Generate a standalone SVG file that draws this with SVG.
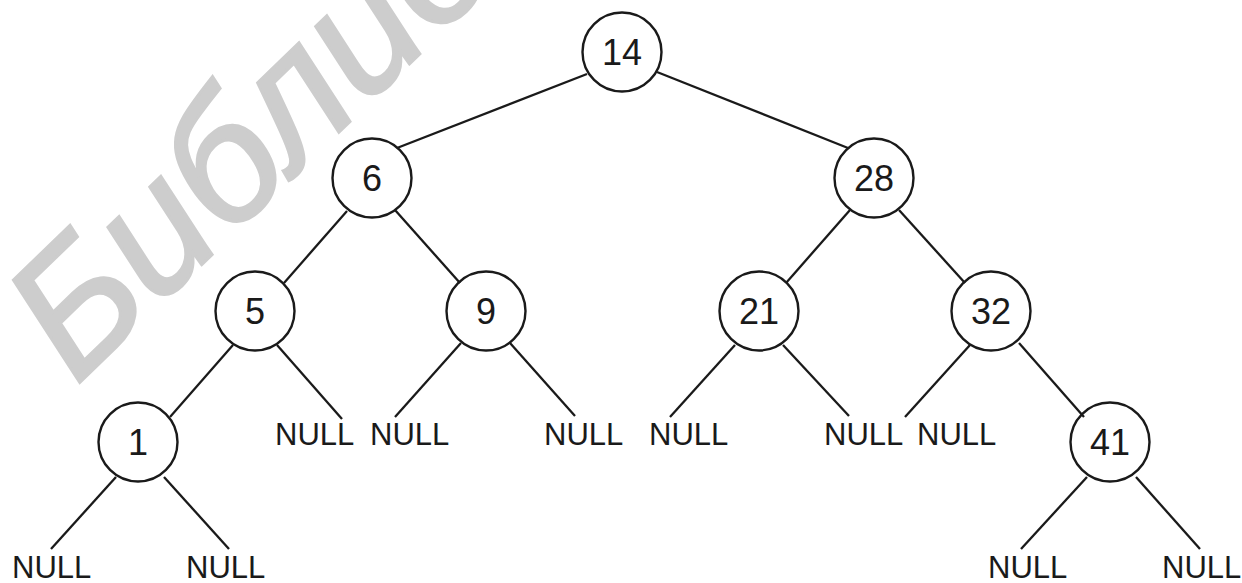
<svg xmlns="http://www.w3.org/2000/svg" width="1242" height="583" viewBox="0 0 1242 583">
<style>
.wm{font-family:"Liberation Sans",Arial,sans-serif;font-style:italic;font-size:174px;fill:#cdcdcd;stroke:#cdcdcd;stroke-width:3}
.n circle{fill:none;stroke:#1a1a1a;stroke-width:2.4}
.n text{font-family:"Liberation Sans",Arial,sans-serif;font-size:36px;fill:#1a1a1a;text-anchor:middle}
.null{font-family:"Liberation Sans",Arial,sans-serif;font-size:31px;fill:#1a1a1a}
#edges line{stroke:#1a1a1a;stroke-width:2.3}
</style>
<rect width="1242" height="583" fill="#fff"/>
<text class="wm" transform="translate(76,386) rotate(-44)">Библио</text>
<g id="edges">
<line x1="397" y1="148" x2="587" y2="74"/>
<line x1="657" y1="72" x2="848" y2="148"/>
<line x1="347" y1="211" x2="284" y2="283"/>
<line x1="395" y1="210" x2="460" y2="283"/>
<line x1="850" y1="210" x2="786" y2="283"/>
<line x1="899" y1="210" x2="965" y2="283"/>
<line x1="233" y1="345" x2="170" y2="417"/>
<line x1="277" y1="345" x2="342" y2="419"/>
<line x1="461" y1="343" x2="395" y2="417"/>
<line x1="510" y1="343" x2="575" y2="416"/>
<line x1="735" y1="345" x2="670" y2="417"/>
<line x1="783" y1="345" x2="849" y2="416"/>
<line x1="970" y1="345" x2="905" y2="417"/>
<line x1="1019" y1="343" x2="1084" y2="417"/>
<line x1="116" y1="477" x2="51" y2="549"/>
<line x1="164" y1="477" x2="229" y2="549"/>
<line x1="1087" y1="477" x2="1021" y2="549"/>
<line x1="1136" y1="477" x2="1200" y2="549"/>
</g>
<g id="n14" class="n"><circle cx="622" cy="52" r="39.5"/><text x="622" y="65">14</text></g>
<g id="n6" class="n"><circle cx="372" cy="178" r="39.5"/><text x="372" y="191">6</text></g>
<g id="n28" class="n"><circle cx="874" cy="178" r="39.5"/><text x="874" y="191">28</text></g>
<g id="n5" class="n"><circle cx="255" cy="311" r="39.5"/><text x="255" y="324">5</text></g>
<g id="n9" class="n"><circle cx="486" cy="311" r="39.5"/><text x="486" y="324">9</text></g>
<g id="n21" class="n"><circle cx="759" cy="311" r="39.5"/><text x="759" y="324">21</text></g>
<g id="n32" class="n"><circle cx="991" cy="311" r="39.5"/><text x="991" y="324">32</text></g>
<g id="n1" class="n"><circle cx="138" cy="442" r="39.5"/><text x="138" y="455">1</text></g>
<g id="n41" class="n"><circle cx="1110" cy="442" r="39.5"/><text x="1110" y="455">41</text></g>
<g id="nulls">
<text class="null" x="275" y="445">NULL</text>
<text class="null" x="370" y="445">NULL</text>
<text class="null" x="544" y="445">NULL</text>
<text class="null" x="649" y="445">NULL</text>
<text class="null" x="824" y="445">NULL</text>
<text class="null" x="917" y="445">NULL</text>
<text class="null" x="12" y="578">NULL</text>
<text class="null" x="186" y="578">NULL</text>
<text class="null" x="988" y="578">NULL</text>
<text class="null" x="1162" y="578">NULL</text>
</g>
</svg>
